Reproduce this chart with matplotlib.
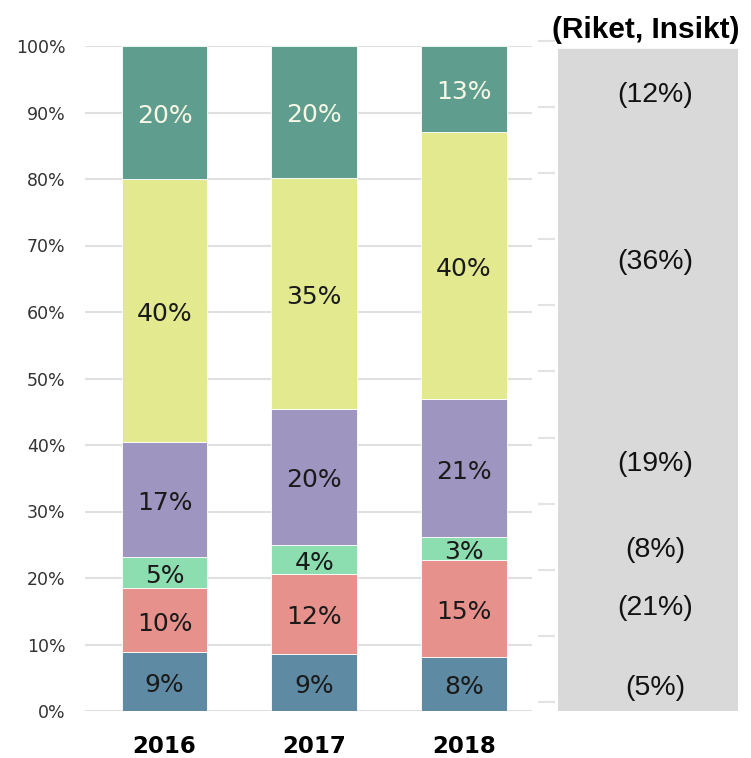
import matplotlib
matplotlib.use("Agg")
import matplotlib.pyplot as plt
from matplotlib.lines import Line2D

# share of each category per year (bottom to top), percent
years = ["2016", "2017", "2018"]
blue = [8.8, 8.6, 8.1]
red = [9.7, 12.0, 14.6]
green = [4.7, 4.4, 3.4]
purple = [17.2, 20.4, 20.8]
yellow = [39.6, 34.8, 40.2]
teal = [20.0, 19.8, 12.9]

# national comparison (Riket, Insikt), top to bottom
riket = [12, 36, 19, 8, 21, 5]
riket_y = [92.6, 67.5, 37.1, 24.2, 15.5, 3.5]

series = [blue, red, green, purple, yellow, teal]
colors = ["#5e8ba3", "#e6918b", "#8cdeb0", "#9e95c1", "#e2e98f", "#5f9d8e"]
txtcol = ["#1a1a1a"] * 5 + ["#f7f7e6"]

fig = plt.figure(figsize=(7.51, 7.58), dpi=100)
ax = fig.add_axes([85/751, 47/758, 447/751, 665/758])

x = list(range(len(years)))
bottom = [0.0] * len(years)
for vals, c, tc in zip(series, colors, txtcol):
    ax.bar(x, vals, 0.574, bottom=bottom, color=c, edgecolor="white", linewidth=0.6, zorder=3)
    for i, v in enumerate(vals):
        # labels sit a touch below the segment middle
        ax.text(i, bottom[i] + v / 2 - 0.5, f"{round(v)}%", ha="center", va="center",
                fontsize=18, color=tc, zorder=4)
    bottom = [b + v for b, v in zip(bottom, vals)]

ax.set_xlim(-0.531, 2.454)
ax.set_ylim(0, 100)
ax.set_yticks(range(0, 101, 10))
ax.set_yticklabels([f"{t}%" for t in range(0, 101, 10)], fontsize=12.5, color="#333333")
ax.set_xticks(x)
ax.set_xticklabels(years, fontsize=16.5, fontweight="bold")
ax.tick_params(axis="both", length=0)
ax.tick_params(axis="y", pad=14)
ax.tick_params(axis="x", pad=17)
ax.yaxis.grid(True, color="#e0e0e0", linewidth=1.5, zorder=0)
for s in ax.spines.values():
    s.set_visible(False)

# faint dashes left of the grey panel
for k in range(11):
    yf = 1 - (702 - k * 66.1) / 758
    fig.add_artist(Line2D([539/751, 554/751], [yf, yf], color="#e3e3e3", linewidth=1.5))

# grey comparison panel
pax = fig.add_axes([558/751, 47/758, 180/751, 665/758])
pax.set_xlim(0, 1)
pax.set_ylim(0, 100)
pax.axis("off")
pax.add_patch(plt.Rectangle((0, 0), 1, 99.6, color="#d9d9d9", zorder=0))
for v, yv in zip(riket, riket_y):
    pax.text(0.54, yv, f"({v}%)", ha="center", va="center", fontsize=20.5,
             family="Liberation Sans", color="#111111")

fig.text(646/751, 1 - 30/758, "(Riket, Insikt)", ha="center", va="center",
         fontsize=21.5, fontweight="bold", family="Liberation Sans")

fig.savefig("out.png", dpi=100)
